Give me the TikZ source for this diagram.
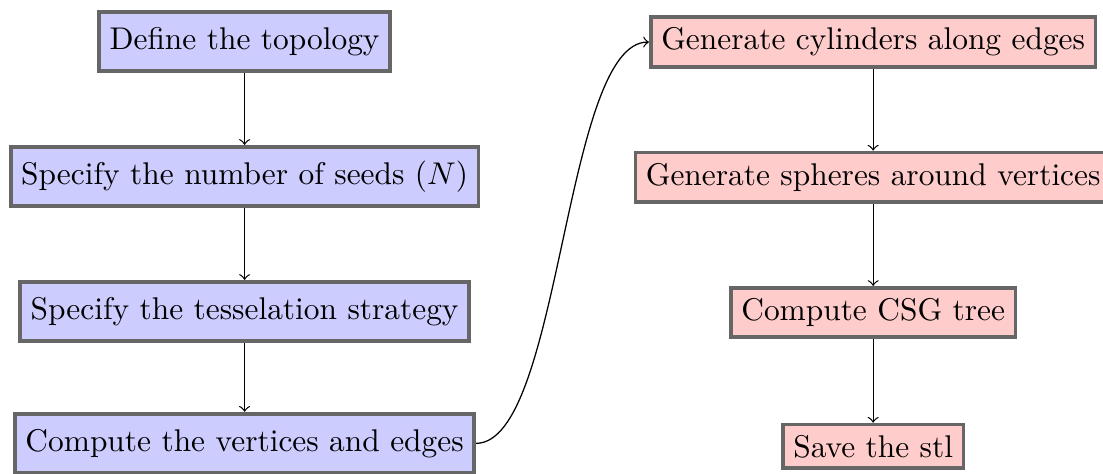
\documentclass[tikz,border=0pt]{standalone}
\begin{document}
\begin{tikzpicture}[x=1pt,y=1pt,
  leftbox/.style={draw=black!60, very thick, fill=blue!20, rectangle, minimum height=18.9pt},
  rightbox/.style={draw=black!60, very thick, fill=red!20, rectangle},
  conn/.style={->}]
\useasboundingbox (0,0) rectangle (351.3,-150.96);
\node[leftbox] (b1) at (77.9,-13.2) {Define the topology};
\node[leftbox] (b2) at (77.9,-56.2) {Specify the number of seeds ($N$)};
\node[leftbox] (b3) at (77.9,-99.2) {Specify the tesselation strategy};
\node[leftbox] (b4) at (77.9,-141.2) {Compute the vertices and edges};
\node[rightbox] (r1) at (278.1,-13.4) {Generate cylinders along edges};
\node[rightbox] (r2) at (278.1,-56.4) {Generate spheres around vertices};
\node[rightbox] (r3) at (278.1,-99.5) {Compute CSG tree};
\node[rightbox] (r4) at (278.1,-142.2) {Save the stl};
\draw[conn] (b1) -- (b2);
\draw[conn] (b2) -- (b3);
\draw[conn] (b3) -- (b4);
\draw[conn] (b4.east) to[out=0,in=180,looseness=0.5] (r1.west);
\draw[conn] (r1) -- (r2);
\draw[conn] (r2) -- (r3);
\draw[conn] (r3) -- (r4);
\end{tikzpicture}
\end{document}
